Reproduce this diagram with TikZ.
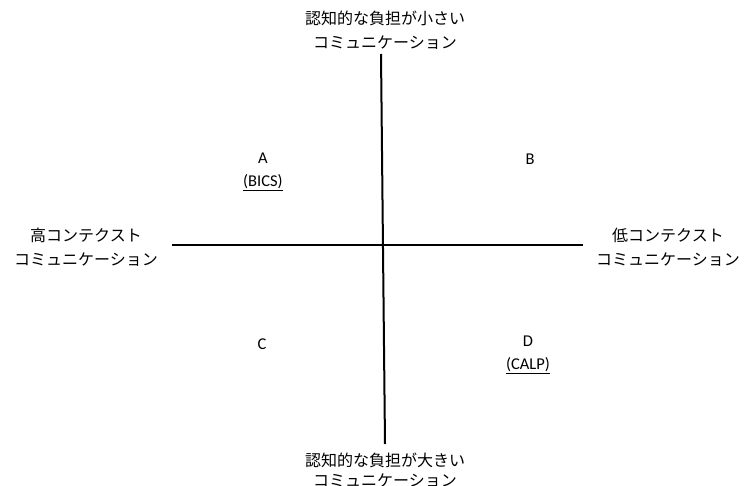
\documentclass[tikz,border=0pt]{standalone}
\usepackage{fontspec}
\setmainfont{Carlito}
\newfontfamily\cjk{Noto Sans CJK JP}
\begin{document}
\begin{tikzpicture}[x=1pt,y=-1pt,
  axis/.style={line width=2pt,black},
  jlab/.style={font=\cjk\fontsize{16}{24}\selectfont,align=center,inner sep=0pt},
  jlabb/.style={font=\cjk\fontsize{16}{19.5}\selectfont,align=center,inner sep=0pt},
  qlab/.style={font=\fontsize{16.5}{23}\selectfont,align=center,inner sep=0pt}]
\useasboundingbox (0,0) rectangle (744,486);
\coordinate (top) at (381,54);
\coordinate (bottom) at (385,444);
\coordinate (left) at (172,245);
\coordinate (right) at (583,245);
\draw[axis] (top) -- (bottom);
\draw[axis] (left) -- (right);
\node[jlab] (tl) at (385,30) {認知的な負担が小さい\\コミュニケーション};
\node[jlabb] (bl) at (385,470) {認知的な負担が大きい\\コミュニケーション};
\node[jlab] (ll) at (86,247) {高コンテクスト\\コミュニケーション};
\node[jlab] (rl) at (668,247) {低コンテクスト\\コミュニケーション};
\node[qlab] (a) at (263,172) {A\\\underline{(BICS)}};
\node[qlab] (b) at (530,159) {B};
\node[qlab] (c) at (262,344) {C};
\node[qlab] (d) at (528,355) {D\\\underline{(CALP)}};
\end{tikzpicture}
\end{document}
